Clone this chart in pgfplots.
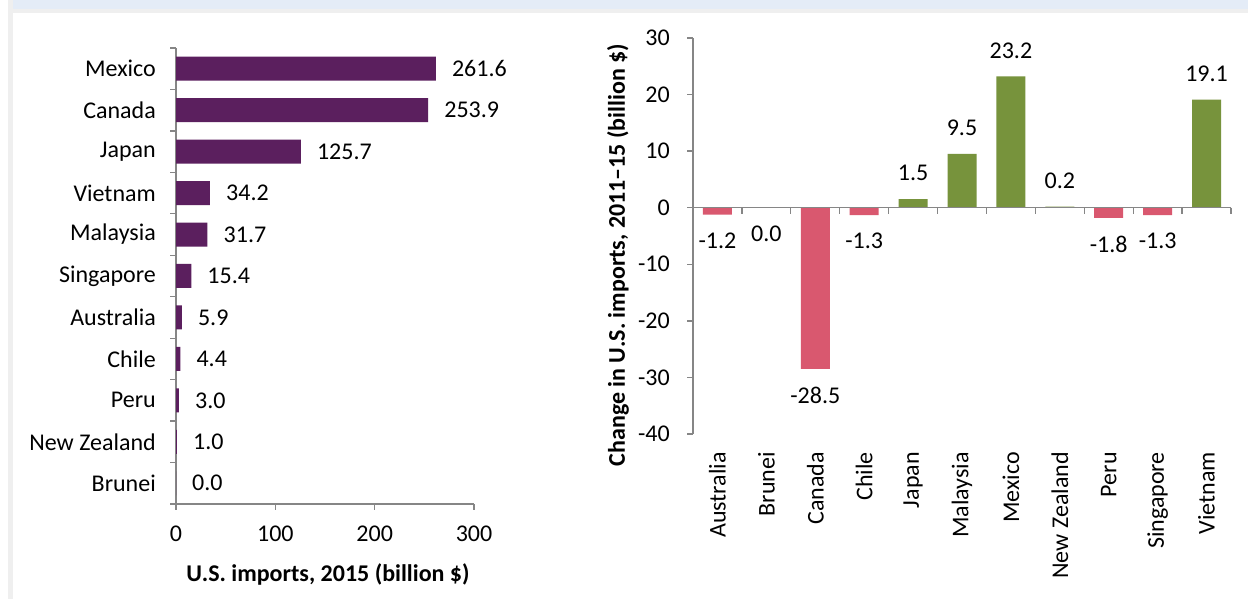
\documentclass[border=0pt]{standalone}
\usepackage{fontspec}
\setmainfont{Carlito}
\usepackage{pgfplots}
\pgfplotsset{compat=1.18}
\definecolor{axisgray}{HTML}{868686}
\definecolor{barpurple}{HTML}{5B1F5E}
\definecolor{barpink}{HTML}{D9586F}
\definecolor{bargreen}{HTML}{77933C}
\definecolor{bggray}{HTML}{EFEFEF}
\definecolor{bgblue}{HTML}{E4ECF7}
\newcommand{\fs}{\fontsize{24}{29}\selectfont}

\begin{document}
\begin{tikzpicture}
\useasboundingbox (0,0) rectangle (1248pt,599pt);
\fill[white] (0,0) rectangle (1248pt,599pt);
\fill[bggray] (8pt,0) rectangle (13pt,599pt);
\fill[bggray] (8pt,586pt) rectangle (1248pt,590pt);
\fill[bgblue] (13pt,590pt) rectangle (1248pt,599pt);

\pgfplotsset{common/.style={scale only axis, tick align=outside,
  axis line style={draw=axisgray, line width=1.3pt, -},
  tick style={draw=axisgray, line width=1.3pt},
  major tick length=6pt, minor tick length=6pt,
  tick label style={font=\fs}, label style={font=\fs\bfseries},
  nodes near coords={\pgfplotspointmeta}, point meta=explicit symbolic,
  every node near coord/.append style={font=\fs, text=black, inner sep=0pt},
  clip=false}}

% Left chart: U.S. imports 2015
\begin{axis}[common, at={(176pt,95pt)}, anchor=south west, width=298pt, height=456pt,
  xbar, bar width=24pt, xmin=0, xmax=300, ymin=-0.5, ymax=10.5,
  axis x line*=bottom, axis y line*=left,
  xtick={0,100,200,300}, xticklabels={0,100,200,300},
  ytick={0,...,10},
  yticklabels={Brunei,New Zealand,Peru,Chile,Australia,Singapore,Malaysia,Vietnam,Japan,Canada,Mexico},
  minor ytick={-0.5,0.5,...,10.5}, major y tick style={draw=none},
  xticklabel style={anchor=north, inner sep=0pt, yshift=-16pt},
  yticklabel style={anchor=east, inner sep=0pt, xshift=-14pt},
  xlabel={U.S. imports, 2015 (billion \$)},
  xlabel style={at={(axis description cs:0.5,0)}, anchor=base, yshift=-78pt, xshift=3pt},
  every node near coord/.append style={anchor=west, xshift=16pt},
]
\addplot[fill=barpurple, draw=none] coordinates {
  (0.0,0) [0.0] (1.0,1) [1.0] (3.0,2) [3.0] (4.4,3) [4.4] (5.9,4) [5.9]
  (15.4,5) [15.4] (31.7,6) [31.7] (34.2,7) [34.2] (125.7,8) [125.7]
  (253.9,9) [253.9] (261.6,10) [261.6]};
\end{axis}

% Right chart: change 2011-15
\begin{axis}[common, at={(693pt,165pt)}, anchor=south west, width=538pt, height=396pt,
  ybar, bar width=29pt, bar shift=0pt, xmin=-0.5, xmax=10.5, ymin=-40, ymax=30,
  axis y line*=left, axis x line*=bottom, x axis line style={draw=none},
  major x tick style={draw=none},
  xtick={0,...,10},
  xticklabels={Australia,Brunei,Canada,Chile,Japan,Malaysia,Mexico,New Zealand,Peru,Singapore,Vietnam},
  xticklabel style={yshift=-12pt, rotate=90, anchor=east, inner sep=0pt},
  ytick={-40,-30,...,30}, yticklabels={-40,-30,-20,-10,0,10,20,30},
  yticklabel style={anchor=east, inner sep=0pt, xshift=-17pt},
  ylabel={Change in U.S. imports, 2011–15 (billion \$)},
  ylabel style={at={(axis description cs:-0.1264,0.452)}, anchor=base},
]
\addplot[fill=barpink, draw=none, every node near coord/.append style={anchor=north, yshift=-18pt}] coordinates {
  (0,-1.2) [-1.2] (1,0.0) [0.0] (2,-28.5) [-28.5] (3,-1.3) [-1.3] (8,-1.8) [-1.8] (9,-1.3) [-1.3]};
\addplot[fill=bargreen, draw=none, every node near coord/.append style={anchor=south, yshift=18pt}] coordinates {
  (4,1.5) [1.5] (5,9.5) [9.5] (6,23.2) [23.2] (7,0.2) [0.2] (10,19.1) [19.1]};
\draw[axisgray, line width=1.3pt] (axis cs:-0.5,0) -- (axis cs:10.5,0);
\pgfplotsinvokeforeach{0.5,1.5,...,10.5}{\draw[axisgray, line width=1.3pt] (axis cs:#1,0) -- ++(0pt,-6pt);}
\end{axis}
\end{tikzpicture}
\end{document}
